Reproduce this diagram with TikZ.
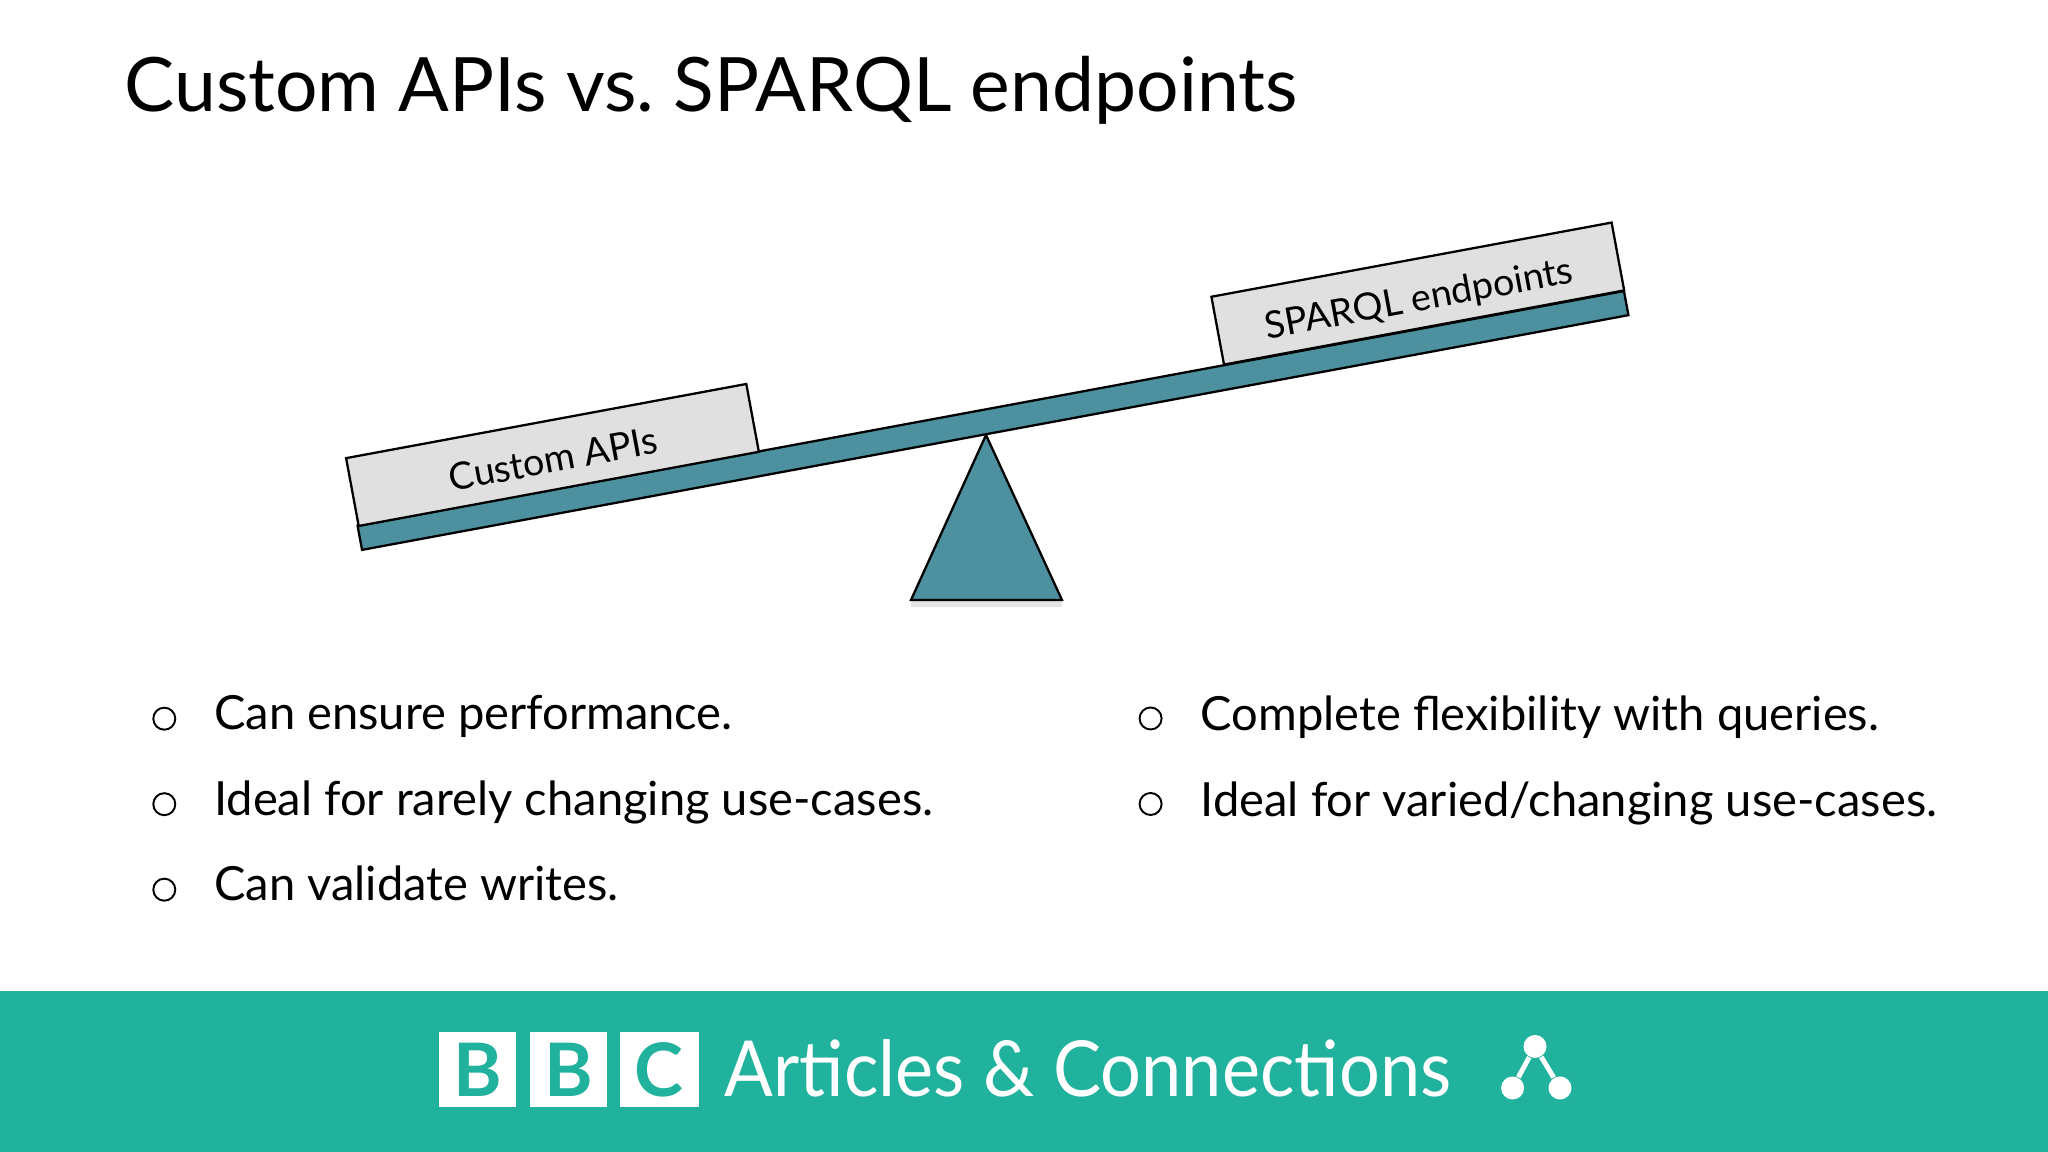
\documentclass[tikz,border=0pt]{standalone}
\usepackage{fontspec}
\setmainfont{Lato}
\newfontfamily\brandfont[FakeStretch=0.933]{Lato}
\usepackage{xcolor}
\usetikzlibrary{positioning}
\definecolor{beamteal}{HTML}{4D91A0}
\definecolor{bandgreen}{HTML}{20B29C}
\definecolor{boxgrey}{HTML}{E0E0E0}
\frenchspacing
\tikzset{
    titletext/.style={inner sep=0pt, anchor=base west, font=\fontsize{21.35pt}{26pt}\selectfont},
    itemtext/.style={inner sep=0pt, anchor=base west, font=\fontsize{13.4pt}{16pt}\selectfont},
    bulletmark/.style={draw, circle, inner sep=0pt, minimum size=0.22cm, line width=0.55pt},
    slab/.style={draw, rotate=10.5, inner sep=0pt, line width=0.65pt},
    slabtext/.style={slab, fill=boxgrey, minimum width=4.07cm, minimum height=0.69cm, text height=0.35cm, text depth=0cm, font=\fontsize{10.7pt}{13pt}\selectfont},
    bbcsquare/.style={fill=white, text=bandgreen, inner sep=0pt, minimum width=0.77cm, minimum height=0.75cm, font=\bfseries\fontsize{21pt}{25pt}\selectfont},
    icondot/.style={circle, fill=white, inner sep=0pt, minimum size=0.23cm}
}
\begin{document}
\begin{tikzpicture}[line join=miter]
            \useasboundingbox (0,0) rectangle (20.48,11.52);

            % Title
            \node[titletext] (heading) at (1.24,10.40) {Custom APIs vs. SPARQL endpoints};

            % Seesaw
            \coordinate (apex) at (9.86,7.17);
            \coordinate (footleft) at (9.11,5.52);
            \coordinate (footright) at (10.62,5.52);
            \draw[line width=2pt, black!10] ([yshift=-0.04cm]footleft) -- ([yshift=-0.04cm]footright);
            \draw[fill=beamteal, line width=0.65pt] (apex) -- (footleft) -- (footright) -- cycle;
            \node[slab, fill=beamteal, minimum width=12.88cm, minimum height=0.245cm] (beam) at (9.93,7.315) {};
            \node[slabtext] (apibox) at (5.525,6.97) {Custom APIs};
            \node[slabtext] (sparqlbox) at (14.178,8.584) {SPARQL endpoints};

            % Left column
            \node[itemtext] (perf) at (2.135,4.22) {Can ensure performance.};
            \node[itemtext, below=0.855cm of perf.base west, anchor=base west] (rare) {Ideal for rarely changing use-cases.};
            \node[itemtext, below=0.855cm of rare.base west, anchor=base west] (writes) {Can validate writes.};
            \node[bulletmark] (perfdot) at ([xshift=-0.492cm,yshift=0.113cm]perf.base west) {};
            \node[bulletmark] (raredot) at ([xshift=-0.492cm,yshift=0.113cm]rare.base west) {};
            \node[bulletmark] (writesdot) at ([xshift=-0.492cm,yshift=0.113cm]writes.base west) {};

            % Right column
            \node[itemtext] (flex) at (12.0,4.21) {Complete flexibility with queries.};
            \node[itemtext, below=0.855cm of flex.base west, anchor=base west] (varied) {Ideal for varied/changing use-cases.};
            \node[bulletmark] (flexdot) at ([xshift=-0.494cm,yshift=0.125cm]flex.base west) {};
            \node[bulletmark] (varieddot) at ([xshift=-0.494cm,yshift=0.125cm]varied.base west) {};

            % Footer band
            \fill[bandgreen] (0,0) rectangle (20.48,1.61);
            \node[bbcsquare] (bbcone) at (4.775,0.825) {B};
            \node[bbcsquare, right=0.13cm of bbcone] (bbctwo) {B};
            \node[bbcsquare, right=0.11cm of bbctwo, minimum width=0.79cm] (bbcthree) {C};
            \node[titletext, text=white, font=\brandfont\fontsize{22pt}{26pt}\selectfont] (brand) at (7.24,0.55) {Articles \& Connections};

            % Graph icon
            \node[icondot] (icontop) at (15.35,1.055) {};
            \node[icondot] (iconleft) at (15.126,0.64) {};
            \node[icondot] (iconright) at (15.60,0.64) {};
            \draw[white, line width=1.4pt] (iconleft) -- (icontop) -- (iconright);
\end{tikzpicture}
\end{document}
